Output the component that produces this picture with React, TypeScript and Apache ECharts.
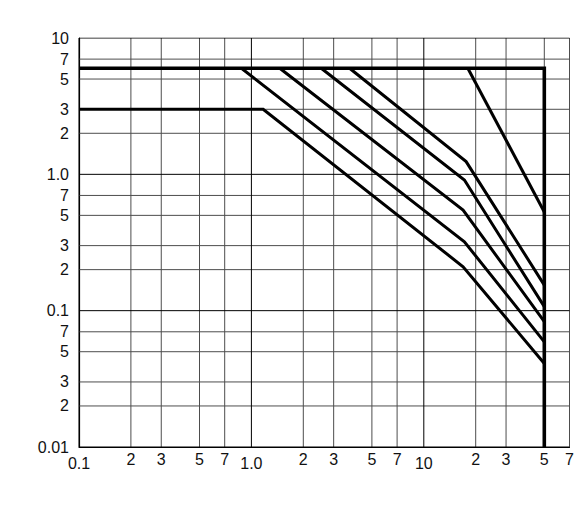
import React, { useEffect, useRef } from "react";
import * as echarts from "echarts";

const xTickValues = [0.1, 0.2, 0.3, 0.5, 0.7, 1, 2, 3, 5, 7, 10, 20, 30, 50, 70];
const xTickLabels = ["0.1", "2", "3", "5", "7", "1.0", "2", "3", "5", "7", "10", "2", "3", "5", "7"];
const yTickValues = [0.01, 0.02, 0.03, 0.05, 0.07, 0.1, 0.2, 0.3, 0.5, 0.7, 1, 2, 3, 5, 7, 10];
const yTickLabels = ["0.01", "2", "3", "5", "7", "0.1", "2", "3", "5", "7", "1.0", "2", "3", "5", "7", "10"];
const decadeLabels = ["0.01", "0.1", "1.0", "10"];

const limitV = [0.1, 50, 50];
const limitI = [6, 6, 0.01];
const dcV = [0.1, 1.17, 16.9, 50];
const dcI = [3, 3, 0.21, 0.041];
const ms100V = [0.875, 17.2, 50];
const ms100I = [6, 0.32, 0.059];
const ms10V = [1.46, 16.9, 50];
const ms10I = [6, 0.547, 0.083];
const ms1V = [2.54, 17.2, 50];
const ms1I = [6, 0.908, 0.107];
const us500V = [3.71, 17.6, 50];
const us500I = [6, 1.24, 0.154];
const us100V = [18, 50];
const us100I = [6, 0.53];

const SANS = "'Liberation Sans', Arial, Helvetica, sans-serif";

export default function App() {
  const ref = useRef<HTMLDivElement | null>(null);

  useEffect(() => {
    if (!ref.current) return;
    const chart = echarts.init(ref.current, undefined, { renderer: "svg" });
    const L = Math.log10;
    const xCustom = xTickValues.map(L);
    const yCustom = yTickValues.map(L);
    const xMin = xCustom[0];
    const xMax = xCustom[xCustom.length - 1];
    const yMin = yCustom[0];
    const yMax = yCustom[yCustom.length - 1];
    const lookup = (vals: number[], labels: string[], lower: boolean) => (v: number) => {
      const i = vals.findIndex((t) => Math.abs(t - v) < 1e-6);
      if (i < 0) return "";
      const s = labels[i];
      return lower && decadeLabels.indexOf(s) >= 0 ? `{d|${s}}` : s;
    };
    const labelBase = { fontFamily: SANS, fontSize: 16, color: "#111" };
    const isDecade = (v: number) => Math.abs(v - Math.round(v)) < 1e-9;
    const toPts = (V: number[], I: number[]) => V.map((v, i) => [L(v), L(I[i])]);
    const curves = [
      { V: limitV, I: limitI, w: 3.6 },
      { V: dcV, I: dcI, w: 3 },
      { V: ms100V, I: ms100I, w: 3 },
      { V: ms10V, I: ms10I, w: 3 },
      { V: ms1V, I: ms1I, w: 3 },
      { V: us500V, I: us500I, w: 3 },
      { V: us100V, I: us100I, w: 3 },
    ];
    const majorData: any[] = [];
    const minorData: any[] = [];
    xCustom.forEach((v) => (isDecade(v) ? majorData : minorData).push([v, yMin], [v, yMax], "-"));
    yCustom.forEach((v) => (isDecade(v) ? majorData : minorData).push([xMin, v], [xMax, v], "-"));
    const gridSeries = (data: any[], color: string) => ({
      type: "line", data, symbol: "none", showSymbol: false, connectNulls: false, z: 1,
      lineStyle: { color, width: 1 },
    });

    chart.setOption({
      animation: false,
      grid: { left: 79, top: 38, right: 7.5, bottom: 84 },
      xAxis: {
        type: "value", min: xMin, max: xMax,
        axisLine: { show: true, onZero: false, lineStyle: { color: "#000", width: 1.2 } },
        axisTick: { show: false },
        axisLabel: {
          customValues: xCustom, formatter: lookup(xCustom, xTickLabels, true),
          margin: 4, ...labelBase,
          rich: { d: { ...labelBase, padding: [4, 0, 0, 0] } },
        },
        splitLine: { show: false },
      },
      yAxis: {
        type: "value", min: yMin, max: yMax,
        axisLine: { show: true, onZero: false, lineStyle: { color: "#000", width: 1.2 } },
        axisTick: { show: false },
        axisLabel: { customValues: yCustom, formatter: lookup(yCustom, yTickLabels, false), margin: 10, ...labelBase },
        splitLine: { show: false },
      },
      series: [
        gridSeries(minorData, "#4d4d4d"),
        gridSeries(majorData, "#000"),
        ...curves.map((c) => ({
          type: "line", data: toPts(c.V, c.I),
          symbol: "none", showSymbol: false, silent: true, z: 4,
          lineStyle: { color: "#000", width: c.w, join: "miter", cap: "butt" },
        })),
      ],
    });
    return () => chart.dispose();
  }, []);

  return <div ref={ref} style={{ position: "fixed", left: 0, top: 0, width: 577, height: 531, background: "#fff" }} />;
}
